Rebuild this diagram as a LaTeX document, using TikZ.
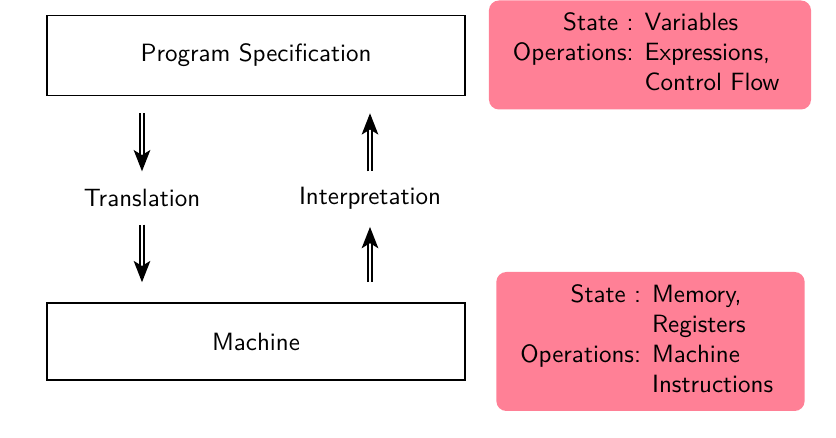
\documentclass[tikz,border=0pt]{standalone}
\usetikzlibrary{arrows.meta}
\definecolor{statepink}{RGB}{255,128,150}
\tikzset{
    blockbox/.style={draw, line width=0.6pt, minimum width=167.2pt, minimum height=32pt},
    statebox/.style={fill=statepink, rounded corners=4pt, inner xsep=3.6pt, inner ysep=3.8pt},
    dblarrow/.style={double, line width=0.9pt, double distance=0.9pt, -{Stealth[length=8.5pt,width=6.6pt,inset=2pt]}}
}
\begin{document}
\begin{tikzpicture}[x=0.4pt, y=-0.4pt, font=\sffamily]
                \useasboundingbox (0,0) rectangle (836,438);
                \node[blockbox] (spec) at (256,55.5) {Program Specification};
                \node[blockbox, minimum height=30.8pt] (mach) at (256,341.5) {Machine};
                \node (trans) at (142,198) {Translation};
                \node (interp) at (370,198) {Interpretation};

                \node[statebox] (specstate) at (650,55) {\begin{tabular}{r@{ }l@{\hspace{9pt}}}
                    State : & Variables\\
                    Operations: & Expressions,\\
                    & Control Flow
                \end{tabular}};
                \node[statebox] (machstate) at (650.5,341.5) {\begin{tabular}{r@{ }l@{\hspace{9pt}}}
                    State : & Memory,\\
                    & Registers\\
                    Operations: & Machine\\
                    & Instructions
                \end{tabular}};

                \draw (spec.south -| trans) edge[dblarrow, shorten <=6.8pt, shorten >=3.6pt] (trans);
                \draw (trans) edge[dblarrow, shorten <=3.6pt, shorten >=8pt] (mach.north -| trans);
                \draw (mach.north -| interp) edge[dblarrow, shorten <=8pt, shorten >=3.6pt] (interp);
                \draw (interp) edge[dblarrow, shorten <=2.7pt, shorten >=6.8pt] (spec.south -| interp);
            \end{tikzpicture}
\end{document}
